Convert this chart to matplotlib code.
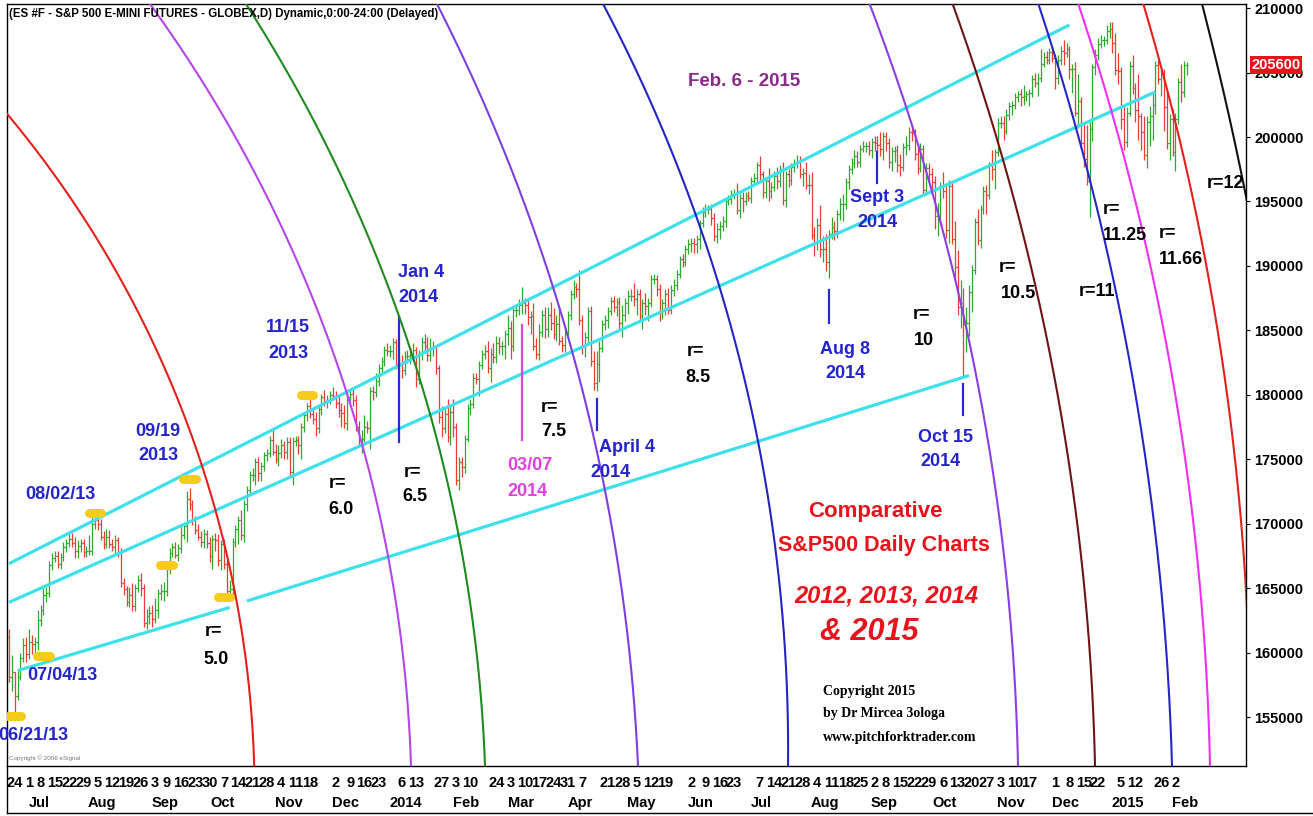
import matplotlib
matplotlib.use("Agg")
import matplotlib.pyplot as plt
import numpy as np
import pandas as pd
from matplotlib.collections import LineCollection
from matplotlib.transforms import blended_transform_factory

W, H = 1313, 816
NARROW = ["Liberation Sans", "DejaVu Sans"]

# ---------------- ES #F daily bars, 2013-06-20 .. 2015-02-06 (points) ----------------
holidays = ["2013-07-04", "2013-09-02", "2013-11-28", "2013-12-25", "2014-01-01",
            "2014-01-20", "2014-02-17", "2014-04-18", "2014-05-26", "2014-07-04",
            "2014-09-01", "2014-11-27", "2014-12-25", "2015-01-01", "2015-01-19"]
first_open = 1612
close = [
    1581, 1585, 1566, 1581, 1596, 1606, 1599,
    1608, 1607, 1608, 1625, 1633, 1645, 1646, 1668, 1673, 1675, 1669, 1674, 1682, 1685, 1688, 1685,
    1679, 1683, 1685, 1678, 1679, 1679,
    1700, 1703, 1700, 1690, 1684, 1690, 1684, 1682, 1687, 1678, 1654, 1649, 1639, 1645, 1636, 1650,
    1656, 1650, 1623, 1628, 1631, 1626,
    1633, 1646, 1648, 1648, 1665, 1677, 1682, 1676, 1681, 1691, 1698, 1719, 1715, 1703, 1695, 1690,
    1686, 1692, 1685, 1675,
    1688, 1687, 1672, 1684, 1669, 1648, 1649, 1686, 1696, 1703, 1691, 1715, 1726, 1738, 1738, 1748,
    1739, 1745, 1753, 1755, 1765, 1756, 1750,
    1755, 1761, 1756, 1763, 1740, 1764, 1765, 1761, 1775, 1784, 1791, 1785, 1781, 1774, 1789, 1798,
    1795, 1796, 1800, 1799,
    1794, 1788, 1786, 1778, 1798, 1801, 1796, 1775, 1765, 1766, 1775, 1774, 1803, 1802, 1811, 1821,
    1826, 1835, 1834, 1834, 1841,
    1824, 1824, 1819, 1830, 1830, 1831, 1835, 1812, 1832, 1841, 1838, 1831, 1836, 1837, 1821, 1783,
    1774, 1785, 1767, 1787, 1775,
    1734, 1748, 1744, 1766, 1790, 1793, 1813, 1812, 1823, 1832, 1834, 1821, 1832, 1829, 1840, 1838,
    1838, 1847, 1852,
    1838, 1866, 1866, 1870, 1871, 1870, 1860, 1861, 1838, 1832, 1849, 1862, 1851, 1862, 1856, 1847,
    1855, 1842, 1839, 1847, 1862,
    1878, 1884, 1882, 1858, 1838, 1845, 1865, 1826, 1809, 1824, 1836, 1855, 1858, 1865, 1873, 1868,
    1872, 1856, 1862, 1871, 1877,
    1877, 1874, 1878, 1861, 1871, 1869, 1871, 1890, 1890, 1882, 1864, 1871, 1878, 1866, 1881, 1885,
    1894, 1905, 1903, 1913, 1917,
    1918, 1917, 1921, 1933, 1942, 1944, 1944, 1937, 1923, 1929, 1931, 1935, 1950, 1952, 1956, 1956,
    1943, 1953, 1950, 1954, 1953,
    1966, 1968, 1978, 1971, 1957, 1966, 1958, 1961, 1970, 1966, 1975, 1951, 1971, 1967, 1977, 1980,
    1981, 1971, 1972, 1963, 1963, 1924,
    1918, 1932, 1913, 1913, 1903, 1925, 1930, 1927, 1940, 1948, 1948, 1965, 1975, 1980, 1985, 1981,
    1991, 1993, 1993, 1990, 1996,
    1995, 1994, 1991, 2001, 1995, 1981, 1989, 1990, 1978, 1977, 1992, 1994, 2004, 2003, 1987, 1976,
    1991, 1959, 1976, 1971, 1965,
    1939, 1939, 1961, 1958, 1928, 1962, 1921, 1899, 1868, 1871, 1855, 1856, 1880, 1897, 1934, 1920,
    1944, 1958, 1955, 1978, 1975, 1988, 2011,
    2011, 2005, 2017, 2024, 2025, 2031, 2033, 2031, 2032, 2033, 2034, 2045, 2042, 2046, 2057, 2062,
    2060, 2066, 2061,
    2046, 2060, 2067, 2065, 2068, 2053, 2053, 2019, 2028, 1995, 1983, 1966, 2006, 2054, 2064, 2072,
    2075, 2075, 2082, 2084, 2073, 2052,
    2051, 2014, 1996, 2019, 2055, 2038, 2021, 2016, 2004, 1986, 2012, 2016, 2025, 2056, 2045, 2050,
    2023, 1995, 2014, 1988,
    2014, 2043, 2035, 2056, 2056,
]
# how far the high / low reach past the bar body
hi_ext = [
    6, 13, 0, 5, 4, 5, 6,
    10, 6, 4, 8, 4, 5, 5, 3, 4, 4, 4, 3, 4, 3, 4, 5, 5, 4, 3, 3, 4, 12,
    5, 4, 3, 4, 4, 6, 5, 4, 4, 3, 3, 4, 3, 6, 9, 3, 4, 6, 3, 6, 5, 6,
    9, 3, 5, 7, 3, 4, 3, 4, 3, 8, 2, 6, 9, 3, 3, 5, 4, 4, 3, 5,
    3, 5, 5, 3, 4, 3, 7, 3, 3, 3, 8, 3, 3, 3, 5, 3, 4, 3, 3, 3, 3, 9, 6,
    6, 5, 3, 4, 4, 3, 3, 3, 3, 3, 3, 7, 5, 6, 3, 3, 6, 4, 3, 6,
    4, 5, 6, 6, 3, 4, 4, 4, 5, 7, 9, 5, 3, 4, 6, 3, 3, 3, 5, 5, 3,
    2, 6, 7, 4, 5, 6, 5, 2, 3, 4, 6, 7, 8, 5, 2, 2, 8, 4, 12, 4, 10,
    3, 4, 4, 3, 3, 4, 4, 4, 3, 3, 5, 8, 4, 8, 6, 5, 4, 3, 10,
    5, 3, 4, 4, 13, 4, 4, 4, 10, 6, 6, 4, 6, 6, 10, 11, 7, 12, 4, 6, 3,
    3, 5, 3, 15, 4, 4, 3, 4, 8, 10, 6, 3, 4, 3, 3, 4, 3, 4, 8, 4, 4,
    5, 10, 4, 4, 3, 8, 4, 3, 4, 3, 4, 3, 4, 5, 4, 5, 3, 3, 4, 3, 4,
    4, 4, 3, 3, 4, 4, 3, 4, 4, 4, 4, 4, 3, 3, 3, 4, 8, 3, 4, 3, 4,
    3, 4, 3, 7, 3, 3, 10, 4, 4, 7, 3, 6, 3, 4, 3, 3, 5, 4, 4, 9, 8, 10,
    6, 5, 15, 10, 12, 3, 8, 5, 3, 5, 8, 3, 3, 4, 5, 4, 3, 4, 3, 4, 3,
    5, 6, 10, 3, 3, 4, 3, 3, 4, 9, 3, 7, 4, 5, 3, 5, 4, 3, 4, 4, 5,
    5, 10, 4, 12, 5, 5, 4, 14, 13, 18, 12, 12, 5, 4, 3, 10, 3, 4, 5, 3, 12, 3, 4,
    5, 5, 5, 3, 3, 3, 3, 4, 8, 3, 3, 3, 5, 4, 11, 4, 5, 3, 4,
    3, 4, 4, 8, 5, 3, 4, 5, 21, 3, 16, 26, 6, 3, 4, 5, 4, 3, 5, 5, 5, 8,
    13, 3, 10, 4, 4, 9, 4, 28, 3, 12, 4, 8, 10, 3, 4, 4, 3, 13, 4, 8,
    5, 3, 14, 3, 2,
]
lo_ext = [
    4, 11, 13, 3, 2, 3, 6,
    4, 8, 8, 6, 4, 4, 6, 3, 4, 3, 3, 4, 3, 4, 3, 3, 6, 6, 5, 4, 4, 3,
    3, 4, 5, 3, 4, 3, 3, 3, 5, 4, 3, 4, 3, 4, 4, 4, 3, 6, 3, 5, 6, 6,
    3, 6, 5, 8, 4, 4, 3, 3, 5, 4, 3, 12, 4, 4, 3, 3, 4, 5, 4, 5,
    10, 8, 5, 8, 4, 4, 8, 4, 4, 12, 4, 5, 5, 4, 5, 8, 6, 6, 4, 4, 3, 3, 3,
    5, 4, 6, 6, 3, 10, 4, 7, 11, 4, 4, 3, 4, 6, 4, 5, 4, 5, 3, 3,
    4, 5, 11, 4, 5, 4, 5, 3, 4, 10, 3, 4, 16, 6, 4, 4, 3, 4, 4, 5, 6,
    4, 6, 6, 4, 5, 6, 5, 6, 4, 5, 4, 5, 5, 6, 5, 5, 7, 4, 4, 6, 8,
    4, 8, 8, 5, 3, 6, 3, 4, 13, 3, 4, 4, 11, 4, 4, 6, 7, 10, 8,
    10, 4, 6, 4, 7, 7, 6, 13, 3, 4, 5, 4, 7, 6, 6, 4, 5, 3, 6, 6, 3,
    4, 4, 6, 4, 6, 9, 4, 4, 5, 6, 14, 3, 5, 6, 3, 4, 7, 5, 11, 5, 8,
    4, 5, 12, 3, 10, 7, 12, 3, 4, 5, 7, 5, 9, 3, 3, 4, 4, 3, 4, 3, 4,
    6, 7, 7, 8, 3, 4, 4, 5, 4, 5, 8, 4, 5, 3, 4, 4, 3, 6, 8, 3, 3,
    4, 3, 3, 4, 4, 4, 8, 5, 3, 6, 5, 4, 5, 6, 4, 4, 4, 3, 9, 3, 7, 3,
    10, 6, 6, 10, 7, 12, 4, 7, 5, 4, 13, 4, 5, 4, 4, 4, 4, 3, 5, 4, 6,
    6, 5, 6, 9, 6, 5, 7, 8, 5, 7, 3, 6, 4, 6, 5, 5, 3, 3, 4, 6, 7,
    10, 16, 3, 5, 6, 10, 4, 10, 6, 16, 41, 22, 10, 16, 3, 4, 6, 4, 15, 3, 8, 15, 3,
    4, 7, 3, 4, 7, 3, 4, 7, 6, 4, 9, 3, 3, 10, 3, 3, 3, 3, 3,
    9, 5, 4, 9, 3, 8, 19, 3, 12, 4, 6, 3, 28, 9, 6, 4, 3, 4, 3, 5, 8, 4,
    10, 8, 6, 4, 3, 5, 9, 18, 14, 4, 10, 19, 18, 7, 4, 13, 18, 4, 13, 3,
    14, 4, 8, 4, 8,
]
last_price = 2056
price_ticks = list(range(1550, 2101, 50))

# cyan channel lines: start date, start price, end date, end price
channel_lines = [
    ("2013-06-20", 1669, "2014-12-08", 2087),
    ("2013-06-20", 1639, "2015-01-22", 2035),
    ("2013-06-25", 1586, "2013-10-09", 1635),
    ("2013-10-17", 1640, "2014-10-17", 1815),
]
# short vertical markers: date, top price, bottom price, colour
marker_dates = ["2014-01-03", "2014-03-07", "2014-04-14", "2014-08-08", "2014-09-03", "2014-10-15"]
marker_top = [1860, 1854, 1797, 1881, 1988, 1808]
marker_bot = [1763, 1765, 1773, 1856, 1964, 1784]
marker_col = ["#2a2ad0", "#e040e0", "#2a2ad0", "#2a2ad0", "#2a2ad0", "#2a2ad0"]
# yellow pivot tags
pivot_dates = ["2013-06-24", "2013-07-09", "2013-08-02", "2013-09-09", "2013-09-19", "2013-10-07", "2013-11-15"]
pivot_price = [1551, 1597, 1708, 1668, 1735, 1643, 1800]

# arcs: three points each, (bar number, price)
arc_colors = ["#e3201b", "#b347ea", "#1f8a1f", "#7e3fe0", "#2424c4", "#8a3ee6",
              "#6e1414", "#2626c8", "#f02ff0", "#e3201b", "#111111"]
arc_points = [
    [(-0.35, 2017.1), (48.15, 1850.3), (84.09, 1565.5)],
    [(49.20, 2103.2), (122.47, 1767.3), (140.27, 1512.0)],
    [(82.69, 2103.2), (142.36, 1819.2), (166.09, 1512.0)],
    [(149.34, 2103.2), (189.81, 1883.6), (219.47, 1512.0)],
    [(207.26, 2103.2), (241.10, 1930.2), (271.81, 1512.0)],
    [(300.42, 2102.4), (331.82, 1873.5), (352.06, 1512.0)],
    [(329.38, 2102.4), (358.69, 1879.0), (378.93, 1512.0)],
    [(359.04, 2104.0), (386.60, 1875.9), (405.79, 1512.0)],
    [(372.99, 2104.0), (400.56, 1875.9), (419.05, 1512.0)],
    [(395.67, 2104.0), (419.74, 1875.9), (431.60, 1648.5)],
    [(416.26, 2103.2), (429.52, 1976.7), (445.90, 1757.2)],
]

tick_days = [
    "2013-06-24", "2013-07-01", "2013-07-08", "2013-07-15", "2013-07-22", "2013-07-29", "2013-08-05",
    "2013-08-12", "2013-08-19", "2013-08-26", "2013-09-03", "2013-09-09", "2013-09-16", "2013-09-23",
    "2013-09-30", "2013-10-07", "2013-10-14", "2013-10-21", "2013-10-28", "2013-11-04", "2013-11-11",
    "2013-11-18", "2013-12-02", "2013-12-09", "2013-12-16", "2013-12-23", "2014-01-06", "2014-01-13",
    "2014-01-27", "2014-02-03", "2014-02-10", "2014-02-24", "2014-03-03", "2014-03-10", "2014-03-17",
    "2014-03-24", "2014-03-31", "2014-04-07", "2014-04-21", "2014-04-28", "2014-05-05", "2014-05-12",
    "2014-05-19", "2014-06-02", "2014-06-09", "2014-06-16", "2014-06-23", "2014-07-07", "2014-07-14",
    "2014-07-21", "2014-07-28", "2014-08-04", "2014-08-11", "2014-08-18", "2014-08-25", "2014-09-02",
    "2014-09-08", "2014-09-15", "2014-09-22", "2014-09-29", "2014-10-06", "2014-10-13", "2014-10-20",
    "2014-10-27", "2014-11-03", "2014-11-10", "2014-11-17", "2014-12-01", "2014-12-08", "2014-12-15",
    "2014-12-22", "2015-01-05", "2015-01-12", "2015-01-26", "2015-02-02",
]

# ---------------- build bars ----------------
dates = pd.bdate_range("2013-06-20", "2015-02-06")
dates = dates[~dates.isin(pd.to_datetime(holidays))]
assert len(dates) == len(close) == len(hi_ext) == len(lo_ext)
n = len(close)
c = np.array(close, dtype=float)
o = np.concatenate([[first_open], c[:-1]])
hi = np.maximum(o, c) + np.array(hi_ext)
lo = np.minimum(o, c) - np.array(lo_ext)


def bx(d):
    return dates.get_loc(pd.Timestamp(d))


fig = plt.figure(figsize=(W / 100, H / 100), dpi=100)
ax = fig.add_axes([7 / W, 1 - 766 / H, (1246 - 7) / W, (766 - 4) / H])
ax.set_xlim(-0.7, 431.6)
ax.set_ylim(1512.0, 2103.2)

segs, cols = [], []
for i in range(n):
    col = "#2fa82f" if c[i] >= o[i] else "#ec3a36"
    segs += [[(i, lo[i]), (i, hi[i])], [(i - 0.5, o[i]), (i, o[i])], [(i, c[i]), (i + 0.5, c[i])]]
    cols += [col] * 3
ax.add_collection(LineCollection(segs, colors=cols, linewidths=0.9, zorder=2))

for d0, p0, d1, p1 in channel_lines:
    ax.plot([bx(d0), bx(d1)], [p0, p1], color="#3ee0ea", lw=2.3, solid_capstyle="butt", zorder=3)

for d, pt, pb, col in zip(marker_dates, marker_top, marker_bot, marker_col):
    ax.plot([bx(d), bx(d)], [pb, pt], color=col, lw=1.6, zorder=4)

for d, p in zip(pivot_dates, pivot_price):
    x = bx(d)
    ax.plot([x - 2.2, x + 2.2], [p, p], color="#f6cc1a", lw=6.5, solid_capstyle="round", zorder=3)


def circle_through(pts):
    (x1, y1), (x2, y2), (x3, y3) = pts
    a = 2 * np.array([[x2 - x1, y2 - y1], [x3 - x1, y3 - y1]])
    b = np.array([x2 ** 2 - x1 ** 2 + y2 ** 2 - y1 ** 2, x3 ** 2 - x1 ** 2 + y3 ** 2 - y1 ** 2])
    cx, cy = np.linalg.solve(a, b)
    return cx, cy, np.hypot(x1 - cx, y1 - cy)


# arcs are circles on screen, so fit them in display space
for col, pts in zip(arc_colors, arc_points):
    disp = ax.transData.transform(pts)
    cx, cy, r = circle_through(disp)
    ang = np.arctan2(disp[:, 1] - cy, disp[:, 0] - cx)
    t = np.linspace(ang.min() - 0.4, ang.max() + 0.4, 600)
    curve = np.column_stack([cx + r * np.cos(t), cy + r * np.sin(t)])
    data = ax.transData.inverted().transform(curve)
    ax.plot(data[:, 0], data[:, 1], color=col, lw=1.5, zorder=4)

# axes look
for s in ax.spines.values():
    s.set_linewidth(1.0)
ax.set_xticks([])
ax.yaxis.tick_right()
ax.set_yticks(price_ticks)
ax.set_yticklabels([str(p * 100) for p in price_ticks], fontsize=10.5, fontweight="bold", family=NARROW)
ax.tick_params(axis="y", length=3, width=0.8, pad=3)

# last price tag
ytr = blended_transform_factory(ax.transAxes, ax.transData)
ax.text(1.0045, last_price, str(last_price * 100), transform=ytr, ha="left", va="center",
        fontsize=10.5, fontweight="bold", family=NARROW, color="white", zorder=10, clip_on=False,
        bbox=dict(boxstyle="square,pad=0.12", fc="#e8141c", ec="none"))

# date axis
xtr = blended_transform_factory(ax.transData, ax.transAxes)
for d in tick_days:
    ax.text(bx(d), -17 / 762, str(pd.Timestamp(d).day), transform=xtr, ha="center", va="center",
            fontsize=10.5, fontweight="bold", family=NARROW, clip_on=False)
mfirst = pd.Series(dates).groupby([dates.year, dates.month]).first().iloc[1:]
for d in mfirst:
    lab = str(d.year) if d.month == 1 else d.strftime("%b")
    ax.text(bx(d) + 3.5, -37 / 762, lab, transform=xtr, ha="center", va="center",
            fontsize=10.5, fontweight="bold", family=NARROW, clip_on=False)
fig.add_artist(plt.Line2D([7 / W, 1], [1 - 813 / H, 1 - 813 / H], color="black", lw=1.0))
fig.add_artist(plt.Line2D([7 / W, 7 / W], [1 - 813 / H, 1 - 766 / H], color="black", lw=1.0))


def put(txt, x, y, color="black", size=13, weight="bold", style="normal", family=NARROW, ha="center"):
    fig.text(x / W, 1 - y / H, txt, color=color, fontsize=size, fontweight=weight,
             fontstyle=style, family=family, ha=ha, va="center", zorder=6)


put("(ES #F - S&P 500 E-MINI FUTURES - GLOBEX,D) Dynamic,0:00-24:00 (Delayed)", 9, 14, size=8.3, ha="left")
put("Copyright \u00a9 2006 eSignal", 9, 758, color="#777777", size=4.5, weight="normal", ha="left")

BLUE = "#2424cc"
for txt, x, y in [("08/02/13", 60, 495), ("07/04/13", 62, 676), ("06/21/13", 33, 735),
                  ("09/19", 158, 431), ("2013", 158, 456), ("11/15", 288, 328), ("2013", 288, 353),
                  ("Jan 4", 421, 273), ("2014", 418, 298), ("April 4", 627, 447), ("2014", 610, 472),
                  ("Aug 8", 845, 349), ("2014", 845, 374), ("Sept 3", 877, 197), ("2014", 877, 223),
                  ("Oct 15", 946, 437), ("2014", 940, 462)]:
    put(txt, x, y, color=BLUE)
put("03/07", 530, 466, color="#e23fe2")
put("2014", 527, 492, color="#e23fe2")
for txt, x, y in [("r=", 213, 632), ("5.0", 216, 659), ("r=", 338, 484), ("6.0", 341, 510),
                  ("r=", 412, 472), ("6.5", 415, 497), ("r=", 550, 408), ("7.5", 554, 432),
                  ("r=", 695, 352), ("8.5", 698, 378), ("r=", 921, 315), ("10", 924, 340),
                  ("r=", 1008, 267), ("10.5", 1018, 293), ("r=11", 1097, 292), ("r=", 1111, 210),
                  ("11.25", 1125, 235), ("r=", 1168, 234), ("11.66", 1181, 260), ("r=12", 1226, 183)]:
    put(txt, x, y)

put("Feb. 6 - 2015", 744, 82, color="#8c2a8c", size=13.5)
put("Comparative", 875, 511, color="#e8141c", size=16)
put("S&P500 Daily Charts", 884, 546, color="#e8141c", size=15.5)
put("2012, 2013, 2014", 886, 596, color="#e8141c", size=17, style="italic")
put("& 2015", 869, 632, color="#e8141c", size=22, style="italic")
SERIF = ["Liberation Serif", "DejaVu Serif"]
put("Copyright 2015", 823, 691, size=10, family=SERIF, ha="left")
put("by Dr Mircea 3ologa", 823, 714, size=10, family=SERIF, ha="left")
put("www.pitchforktrader.com", 823, 737, size=10, family=SERIF, ha="left")

fig.savefig("out.png", dpi=100)
